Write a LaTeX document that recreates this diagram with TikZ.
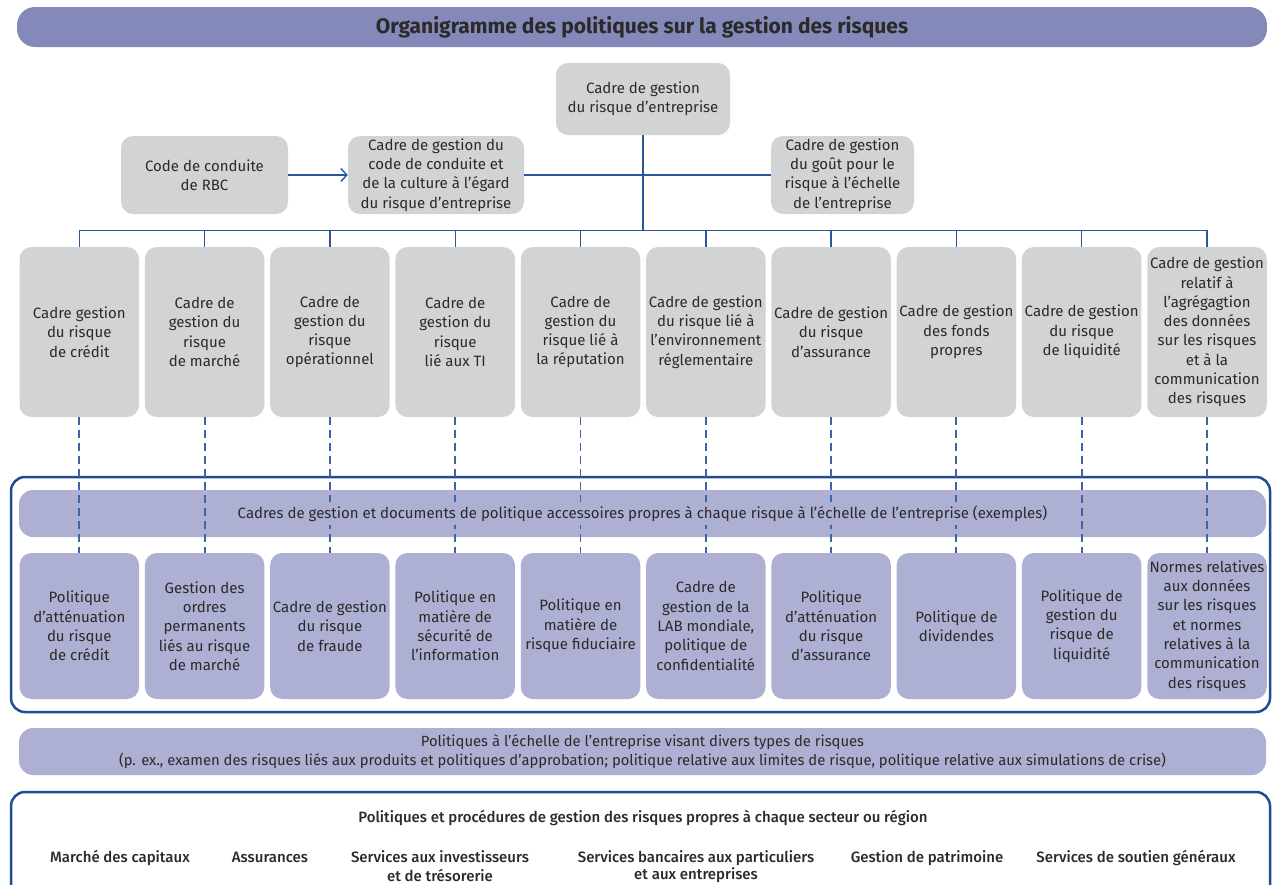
\documentclass[tikz,border=0pt]{standalone}
\usepackage{fontspec}
\setmainfont{Fira Sans}
\newfontfamily\medfont{Fira Sans}[UprightFont={* Medium}]
\usetikzlibrary{arrows.meta}
\definecolor{titlec}{HTML}{8589B9}
\definecolor{grayc}{HTML}{D1D3D4}
\definecolor{lavc}{HTML}{AEB0D3}
\definecolor{linec}{HTML}{2D559B}
\definecolor{dashc}{HTML}{3F63A8}
\definecolor{framec}{HTML}{1F4C94}
\definecolor{txtc}{HTML}{2A2A2A}
\newcommand{\fs}{\fontsize{15}{19.3}\selectfont}
\tikzset{
  every node/.style={text=txtc},
  gbox/.style={fill=grayc, rounded corners=12pt, minimum width=119.5pt, minimum height=170pt, inner sep=0pt, align=center, font=\fs},
  pbox/.style={fill=lavc, rounded corners=12pt, minimum width=119.5pt, minimum height=146pt, inner sep=0pt, align=center, font=\fs},
  tbox/.style={fill=grayc, rounded corners=12pt, inner sep=0pt, align=center, font=\fs},
  conn/.style={draw=linec, line width=1.4pt},
  dashline/.style={draw=dashc, line width=1.9pt, dash pattern=on 8pt off 5pt},
  frame/.style={draw=framec, line width=2.5pt, rounded corners=14pt},
  band/.style={fill=lavc, rounded corners=14pt, inner sep=0pt},
  seclab/.style={font=\medfont\fontsize{15}{17.5}\selectfont, align=center, inner sep=0pt}
}
\begin{document}
\begin{tikzpicture}[x=1pt,y=-1pt]
\useasboundingbox (0,0) rectangle (1272,884);
\clip (0,0) rectangle (1272,884);
% title
\node[fill=titlec, rounded corners=18pt, minimum width=1250pt, minimum height=40pt, inner sep=0pt,
  font=\bfseries\fontsize{21}{24}\selectfont] (title) at (642,27) {Organigramme des politiques sur la gestion des risques};
% top level
\node[tbox, minimum width=174pt, minimum height=72pt] (top) at (643,99) {Cadre de gestion\\du risque d’entreprise};
\node[tbox, minimum width=167pt, minimum height=78pt] (code) at (204.5,175) {Code de conduite\\de RBC};
\node[tbox, minimum width=176pt, minimum height=78pt] (cc) at (436,175) {Cadre de gestion du\\code de conduite et\\de la culture à l’égard\\du risque d’entreprise};
\node[tbox, minimum width=143pt, minimum height=78pt] (gout) at (842.5,175) {Cadre de gestion\\du goût pour le\\risque à l’échelle\\de l’entreprise};
\draw[conn, -{Straight Barb[length=6pt,width=13pt]}] (code.east) -- (cc.west);
\draw[conn] (cc.east) -- (gout.west);
% second row
\node[gbox] (g1) at (79.3,332) {Cadre gestion\\du risque\\de crédit};
\node[gbox] (g2) at (204.6,332) {Cadre de\\gestion du\\risque\\de marché};
\node[gbox] (g3) at (329.9,332) {Cadre de\\gestion du\\risque\\opérationnel};
\node[gbox] (g4) at (455.2,332) {Cadre de\\gestion du\\risque\\lié aux TI};
\node[gbox] (g5) at (580.5,332) {Cadre de\\gestion du\\risque lié à\\la réputation};
\node[gbox] (g6) at (705.8,332) {Cadre de gestion\\du risque lié à\\l’environnement\\réglementaire};
\node[gbox] (g7) at (831.1,332) {Cadre de gestion\\du risque\\d’assurance};
\node[gbox] (g8) at (956.4,332) {Cadre de gestion\\des fonds\\propres};
\node[gbox] (g9) at (1081.7,332) {Cadre de gestion\\du risque\\de liquidité};
\node[gbox] (g10) at (1207,332) {Cadre de gestion\\relatif à\\l’agrégagtion\\des données\\sur les risques\\et à la\\communication\\des risques};
\foreach \i in {1,...,10} {
  \draw[conn] (top.south) -- ++(0,95) -| (g\i.north);
}
% accessory frame
\draw[frame] (11,477) rectangle (1270,712);
\node[band, minimum width=1247pt, minimum height=47pt] (band) at (642.5,513.5) {};
% policy boxes
\node[pbox] (p1) at (79.3,626) {Politique\\d’atténuation\\du risque\\de crédit};
\node[pbox] (p2) at (204.6,626) {Gestion des\\ordres\\permanents\\liés au risque\\de marché};
\node[pbox] (p3) at (329.9,626) {Cadre de gestion\\du risque\\de fraude};
\node[pbox] (p4) at (455.2,626) {Politique en\\matière de\\sécurité de\\l’information};
\node[pbox] (p5) at (580.5,626) {Politique en\\matière de\\risque fiduciaire};
\node[pbox] (p6) at (705.8,626) {Cadre de\\gestion de la\\LAB mondiale,\\politique de\\confidentialité};
\node[pbox] (p7) at (831.1,626) {Politique\\d’atténuation\\du risque\\d’assurance};
\node[pbox] (p8) at (956.4,626) {Politique de\\dividendes};
\node[pbox] (p9) at (1081.7,626) {Politique de\\gestion du\\risque de\\liquidité};
\node[pbox] (p10) at (1207,626) {Normes relatives\\aux données\\sur les risques\\et normes\\relatives à la\\communication\\des risques};
\foreach \i in {1,...,10} {
  \draw[dashline] (g\i.south) -- (p\i.north);
}
\node[fill=lavc, inner xsep=1pt, inner ysep=4pt, font=\fs] (bandtxt) at (band.center) {Cadres de gestion et documents de politique accessoires propres à chaque risque à l’échelle de l’entreprise (exemples)};
% enterprise-wide band
\node[band, minimum width=1247pt, minimum height=47pt, align=center, font=\fontsize{14.8}{18.5}\selectfont] (ent) at (642.5,751.5) {Politiques à l’échelle de l’entreprise visant divers types de risques\\(p. ex., examen des risques liés aux produits et politiques d’approbation; politique relative aux limites de risque, politique relative aux simulations de crise)};
% sector frame
\draw[frame] (11,792) rectangle (1270,910);
\node[seclab] (sec) at (643,818) {Politiques et procédures de gestion des risques propres à chaque secteur ou région};
\node[seclab, anchor=north] (s1) at (120,850) {\strut Marché des capitaux};
\node[seclab, anchor=north] (s2) at (270,850) {\strut Assurances};
\node[seclab, anchor=north] (s3) at (440,850) {\strut Services aux investisseurs\\et de trésorerie\hspace{28pt}};
\node[seclab, anchor=north] (s4) at (696,850) {\strut Services bancaires aux particuliers\\et aux entreprises\hspace{50pt}};
\node[seclab, anchor=north] (s5) at (927,850) {\strut Gestion de patrimoine};
\node[seclab, anchor=north] (s6) at (1136,850) {\strut Services de soutien généraux};
\end{tikzpicture}
\end{document}
